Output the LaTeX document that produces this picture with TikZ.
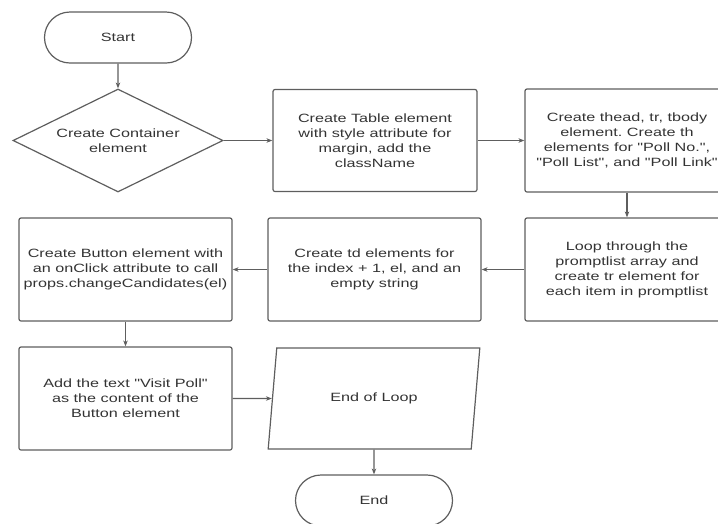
\documentclass[tikz,border=0pt]{standalone}
\usepackage{fontspec}
\newfontfamily\diafont[FakeStretch=1.35]{Liberation Sans}
\usetikzlibrary{shapes.geometric,shapes.misc,arrows.meta}
\definecolor{ln}{HTML}{5E5E5E}
\definecolor{tx}{HTML}{333333}
\begin{document}
\frenchspacing
\begin{tikzpicture}[x=1pt,y=-1pt,
  font=\diafont\fontsize{12}{15}\selectfont, text=tx,
  base/.style={draw=ln, line width=1.2pt, align=center, inner sep=0pt},
  box/.style={base, rounded corners=2pt, minimum width=213pt, minimum height=103pt},
  nbox/.style={box, minimum width=204pt},
  pill/.style={base, rounded rectangle, minimum height=51pt},
  ar/.style={draw=ln, line width=1.2pt, -{Stealth[length=6pt,width=4.5pt]}}]
\useasboundingbox (0,0) rectangle (718,523);
\node[pill, minimum width=147pt] (start) at (118,37.5) {Start};
\node[base, diamond, aspect=2, minimum width=210pt, minimum height=103pt] (cont) at (118,140.5) {Create Container\\element};
\node[nbox, minimum height=102pt] (table) at (375,140.5) {Create Table element\\with style attribute for\\margin, add the\\className};
\node[nbox] (thead) at (627,140.5) {Create thead, tr, tbody\\element. Create th\\elements for "Poll No.",\\"Poll List", and "Poll Link"};
\node[nbox] (loop) at (627,269.5) {Loop through the\\promptlist array and\\create tr element for\\each item in promptlist};
\node[box] (td) at (374.5,269.5) {Create td elements for\\the index + 1, el, and an\\empty string};
\node[box] (btn) at (125.5,269.5) {Create Button element with\\an onClick attribute to call\\props.changeCandidates(el)};
\node[box] (add) at (125.5,398.5) {Add the text "Visit Poll"\\as the content of the\\Button element};
\node[base, trapezium, trapezium left angle=71, trapezium right angle=109, trapezium stretches=true, minimum width=212pt, minimum height=101pt] (eol) at (374,398.5) {End of Loop};
\node[pill, minimum width=157pt] (end) at (374,500.5) {End};
\draw[ar] (start) -- (cont);
\draw[ar] (cont) -- (table);
\draw[ar] (table) -- (thead);
\draw[ar] (thead) -- (loop);
\draw[ar] (loop) -- (td);
\draw[ar] (td) -- (btn);
\draw[ar] (btn) -- (add);
\draw[ar] (add) -- (eol);
\draw[ar] (eol) -- (end);
\end{tikzpicture}
\end{document}
